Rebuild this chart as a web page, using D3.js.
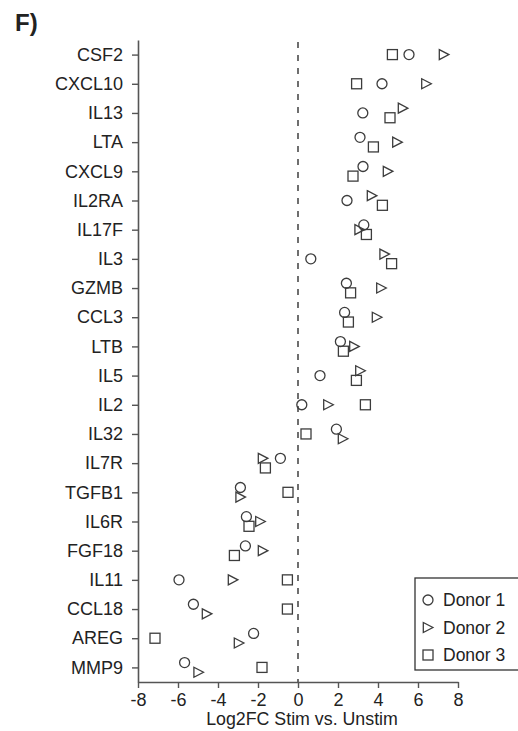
<!DOCTYPE html>
<html>
<head>
<meta charset="utf-8">
<script src="https://cdn.jsdelivr.net/npm/d3@7"></script>
<style>
  html, body { margin: 0; padding: 0; background: #fff; }
  svg { display: block; font-family: "Liberation Sans", Arial, sans-serif; }
</style>
</head>
<body>
<svg id="chart" width="518" height="731"></svg>
<script>
// Genes, top to bottom
const genes = ["CSF2", "CXCL10", "IL13", "LTA", "CXCL9", "IL2RA", "IL17F", "IL3", "GZMB", "CCL3", "LTB",
  "IL5", "IL2", "IL32", "IL7R", "TGFB1", "IL6R", "FGF18", "IL11", "CCL18", "AREG", "MMP9"];

// Log2 fold change, stimulated vs. unstimulated, one value per gene
const donor1 = [5.55, 4.2, 3.24, 3.1, 3.25, 2.45, 3.29, 0.64, 2.42, 2.33, 2.12,
  1.1, 0.19, 1.92, -0.88, -2.88, -2.58, -2.63, -5.95, -5.23, -2.22, -5.67];
const donor2 = [7.3, 6.42, 5.25, 4.97, 4.5, 3.7, 3.08, 4.33, 4.17, 3.95, 2.82,
  3.12, 1.52, 2.25, -1.75, -2.87, -1.88, -1.75, -3.25, -4.55, -2.95, -4.97];
const donor3 = [4.72, 2.93, 4.6, 3.77, 2.75, 4.22, 3.42, 4.68, 2.63, 2.52, 2.27,
  2.92, 3.37, 0.4, -1.63, -0.5, -2.45, -3.18, -0.53, -0.53, -7.15, -1.8];

const donorNames = ["Donor 1", "Donor 2", "Donor 3"];
const xTicks = [-8, -6, -4, -2, 0, 2, 4, 6, 8];

const svg = d3.select("#chart");
const ink = "#222";
const axisInk = "#555";
const markInk = "#3c3c3c";

const x = d3.scaleLinear().domain([-8, 8]).range([138, 458]);
const y = d3.scalePoint().domain(genes).range([40, 682]).padding(0.5);

// Panel letter
svg.append("text")
  .attr("x", 15).attr("y", 31)
  .attr("font-size", 24).attr("font-weight", "bold").attr("fill", ink)
  .text("F)");

// Zero reference line
svg.append("line")
  .attr("x1", x(0)).attr("x2", x(0))
  .attr("y1", 42).attr("y2", 682)
  .attr("stroke", "#222").attr("stroke-width", 1.3)
  .attr("stroke-dasharray", "6,7");

// Axes
const yAxis = svg.append("g")
  .attr("transform", `translate(${x(-8)},0)`)
  .call(d3.axisLeft(y).tickSize(6).tickSizeOuter(0).tickPadding(9));
const xAxis = svg.append("g")
  .attr("transform", `translate(0,682)`)
  .call(d3.axisBottom(x).tickValues(xTicks).tickFormat(d => String(d))
    .tickSize(6).tickSizeOuter(0).tickPadding(5));

[yAxis, xAxis].forEach(g => {
  g.select(".domain").attr("stroke", axisInk).attr("stroke-width", 1.6);
  g.selectAll(".tick line").attr("stroke", axisInk).attr("stroke-width", 1.4);
  g.selectAll(".tick text").attr("fill", ink).attr("font-size", 18)
    .attr("font-family", "Liberation Sans, Arial, sans-serif");
});

svg.append("text")
  .attr("x", 302).attr("y", 725)
  .attr("text-anchor", "middle")
  .attr("font-size", 17.8).attr("fill", ink)
  .text("Log2FC Stim vs. Unstim");

// Marker shapes
const shapes = [
  g => g.append("circle").attr("r", 5),
  g => g.append("path").attr("d", "M-4.7,-5L4.9,0L-4.7,5Z"),
  g => g.append("rect").attr("x", -5).attr("y", -5).attr("width", 10).attr("height", 10)
];

// Points: markers that crowd each other within a row are nudged apart vertically
const series = [donor1, donor2, donor3];
const points = [];
genes.forEach((gene, gi) => {
  const row = series.map((vals, di) => ({ gene, donor: di, value: vals[gi], px: x(vals[gi]) }));
  row.forEach(p => {
    let push = 0;
    row.forEach(q => {
      if (q === p) return;
      if (Math.abs(q.px - p.px) < 15.5) push += p.donor < q.donor ? -1 : 1;
    });
    p.dy = Math.max(-1, Math.min(1, push)) * 4.8;
    points.push(p);
  });
});

const marks = svg.append("g")
  .attr("fill", "none").attr("stroke", markInk).attr("stroke-width", 1.3);
marks.selectAll("g.pt")
  .data(points)
  .join("g")
  .attr("class", "pt")
  .attr("transform", d => `translate(${d.px},${y(d.gene) + d.dy})`)
  .each(function (d) { shapes[d.donor](d3.select(this)); });

// Legend
const legend = svg.append("g");
legend.append("rect")
  .attr("x", 415).attr("y", 578).attr("width", 110).attr("height", 92)
  .attr("fill", "#fff").attr("stroke", "#333").attr("stroke-width", 1.3);
donorNames.forEach((name, i) => {
  const cy = 600 + i * 27.5;
  const g = legend.append("g")
    .attr("transform", `translate(428,${cy})`)
    .attr("fill", "none").attr("stroke", markInk).attr("stroke-width", 1.3);
  shapes[i](g);
  legend.append("text")
    .attr("x", 443).attr("y", cy + 6.3)
    .attr("font-size", 17.5).attr("fill", ink)
    .text(name);
});
</script>
</body>
</html>
